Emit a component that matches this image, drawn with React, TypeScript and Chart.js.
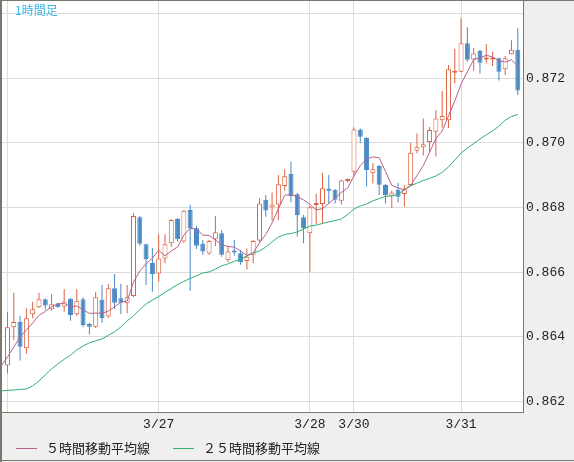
import React, { useEffect, useRef } from 'react';
import { Chart, registerables } from 'chart.js';

Chart.register(...registerables);

// ---- data (hourly candles, index 0 = 3/26 0:00) ----
const opens = [
  0.86312, 0.86430, 0.86446, 0.86365, 0.86470, 0.86492, 0.86517, 0.86486, 0.86504, 0.86494,
  0.86518, 0.86470, 0.86517, 0.86440, 0.86432, 0.86515, 0.86463, 0.86551, 0.86520, 0.86504,
  0.86527, 0.86770, 0.86687, 0.86629, 0.86596, 0.86643, 0.86690, 0.86765, 0.86695, 0.86793,
  0.86736, 0.86688, 0.86658, 0.86702, 0.86721, 0.86637, 0.86666, 0.86659, 0.86635, 0.86654,
  0.86698, 0.86824, 0.86801, 0.86810, 0.86867, 0.86904, 0.86841, 0.86770, 0.86721, 0.86808,
  0.86811, 0.86856, 0.86855, 0.86821, 0.86882, 0.86911, 0.87042, 0.87015, 0.86906, 0.86929,
  0.86870, 0.86837, 0.86855, 0.86842, 0.86870, 0.86976, 0.86987, 0.87003, 0.87035, 0.87070,
  0.87070, 0.87217, 0.87220, 0.87308, 0.87258, 0.87284, 0.87258, 0.87258, 0.87262, 0.87228,
  0.87274, 0.87288,
];
const highs = [
  0.86478, 0.86537, 0.86465, 0.86489, 0.86509, 0.86537, 0.86519, 0.86533, 0.86505, 0.86548,
  0.86521, 0.86548, 0.86523, 0.86444, 0.86539, 0.86561, 0.86564, 0.86595, 0.86564, 0.86561,
  0.86783, 0.86774, 0.86688, 0.86676, 0.86718, 0.86718, 0.86765, 0.86768, 0.86793, 0.86808,
  0.86743, 0.86700, 0.86700, 0.86774, 0.86731, 0.86681, 0.86700, 0.86669, 0.86674, 0.86700,
  0.86829, 0.86839, 0.86847, 0.86901, 0.86919, 0.86942, 0.86845, 0.86777, 0.86805, 0.86842,
  0.86907, 0.86901, 0.86858, 0.86886, 0.86890, 0.87048, 0.87045, 0.87018, 0.86938, 0.86932,
  0.86873, 0.86852, 0.86876, 0.86870, 0.87001, 0.87029, 0.87076, 0.87049, 0.87102, 0.87161,
  0.87241, 0.87291, 0.87386, 0.87358, 0.87294, 0.87288, 0.87306, 0.87282, 0.87264, 0.87269,
  0.87318, 0.87355,
];
const lows = [
  0.86288, 0.86391, 0.86327, 0.86348, 0.86458, 0.86490, 0.86484, 0.86482, 0.86491, 0.86478,
  0.86450, 0.86465, 0.86430, 0.86408, 0.86428, 0.86443, 0.86459, 0.86486, 0.86471, 0.86473,
  0.86524, 0.86682, 0.86561, 0.86540, 0.86571, 0.86628, 0.86679, 0.86695, 0.86691, 0.86543,
  0.86672, 0.86654, 0.86654, 0.86681, 0.86648, 0.86631, 0.86651, 0.86623, 0.86609, 0.86628,
  0.86693, 0.86772, 0.86760, 0.86762, 0.86852, 0.86817, 0.86711, 0.86690, 0.86602, 0.86749,
  0.86752, 0.86811, 0.86813, 0.86810, 0.86878, 0.86896, 0.86999, 0.86865, 0.86875, 0.86839,
  0.86813, 0.86798, 0.86816, 0.86803, 0.86867, 0.86968, 0.86961, 0.86970, 0.86958, 0.87048,
  0.87046, 0.87185, 0.87219, 0.87251, 0.87223, 0.87215, 0.87246, 0.87238, 0.87193, 0.87210,
  0.87274, 0.87148,
];
const closes = [
  0.86430, 0.86446, 0.86370, 0.86458, 0.86486, 0.86517, 0.86497, 0.86501, 0.86492, 0.86510,
  0.86468, 0.86512, 0.86437, 0.86432, 0.86523, 0.86459, 0.86551, 0.86506, 0.86506, 0.86523,
  0.86774, 0.86688, 0.86641, 0.86595, 0.86643, 0.86687, 0.86762, 0.86702, 0.86790, 0.86736,
  0.86682, 0.86664, 0.86697, 0.86724, 0.86654, 0.86664, 0.86661, 0.86631, 0.86648, 0.86697,
  0.86813, 0.86791, 0.86810, 0.86872, 0.86897, 0.86836, 0.86777, 0.86736, 0.86801, 0.86811,
  0.86860, 0.86852, 0.86824, 0.86884, 0.86886, 0.87042, 0.87019, 0.86916, 0.86919, 0.86871,
  0.86838, 0.86847, 0.86834, 0.86857, 0.86970, 0.86988, 0.86996, 0.87040, 0.87076, 0.87083,
  0.87228, 0.87222, 0.87308, 0.87257, 0.87277, 0.87248, 0.87261, 0.87260, 0.87220, 0.87262,
  0.87288, 0.87162,
];
// moving averages, first value sits at index maFirstIndex (one hour before the first candle)
const maFirstIndex = -1;
const ma5 = [
  0.86310, 0.86338, 0.86369, 0.86400, 0.86422, 0.86443, 0.86467, 0.86479, 0.86494, 0.86502,
  0.86504, 0.86493, 0.86496, 0.86484, 0.86473, 0.86474, 0.86473, 0.86480, 0.86493, 0.86508,
  0.86511, 0.86570, 0.86604, 0.86626, 0.86644, 0.86668, 0.86651, 0.86666, 0.86678, 0.86715,
  0.86736, 0.86734, 0.86715, 0.86714, 0.86700, 0.86685, 0.86680, 0.86678, 0.86666, 0.86652,
  0.86660, 0.86691, 0.86717, 0.86753, 0.86796, 0.86838, 0.86841, 0.86833, 0.86824, 0.86810,
  0.86793, 0.86797, 0.86813, 0.86830, 0.86847, 0.86861, 0.86898, 0.86930, 0.86950, 0.86957,
  0.86954, 0.86912, 0.86869, 0.86861, 0.86855, 0.86869, 0.86899, 0.86930, 0.86971, 0.87014,
  0.87037, 0.87083, 0.87130, 0.87182, 0.87220, 0.87258, 0.87263, 0.87271, 0.87266, 0.87254,
  0.87250, 0.87257, 0.87238,
];
const ma25 = [
  0.86233, 0.86235, 0.86236, 0.86238, 0.86239, 0.86249, 0.86264, 0.86283, 0.86301, 0.86317,
  0.86331, 0.86344, 0.86360, 0.86372, 0.86382, 0.86388, 0.86394, 0.86405, 0.86416, 0.86431,
  0.86450, 0.86465, 0.86485, 0.86502, 0.86514, 0.86525, 0.86538, 0.86550, 0.86562, 0.86572,
  0.86581, 0.86589, 0.86598, 0.86601, 0.86610, 0.86620, 0.86626, 0.86634, 0.86640, 0.86651,
  0.86660, 0.86666, 0.86678, 0.86694, 0.86709, 0.86717, 0.86720, 0.86725, 0.86734, 0.86743,
  0.86746, 0.86751, 0.86756, 0.86760, 0.86765, 0.86779, 0.86796, 0.86805, 0.86811, 0.86821,
  0.86828, 0.86835, 0.86836, 0.86841, 0.86855, 0.86867, 0.86876, 0.86884, 0.86890, 0.86898,
  0.86909, 0.86926, 0.86947, 0.86969, 0.86984, 0.86998, 0.87012, 0.87025, 0.87037, 0.87052,
  0.87070, 0.87082, 0.87088,
];
const xTickIndex = [0, 24, 48, 55, 72];
const xTickLabels = ['', '3/27', '3/28', '3/30', '3/31'];
const yTickValues = [0.862, 0.864, 0.866, 0.868, 0.87, 0.872, 0.874];
const yTickLabels = ['0.862', '0.864', '0.866', '0.868', '0.870', '0.872', ''];
const titleText = '1時間足';
const ma5Label = '５時間移動平均線';
const ma25Label = '２５時間移動平均線';

// ---- styles ----
const UP = '#dc6242';
const DOWN = '#4a89c3';
const MA5_COLOR = '#b9608f';
const MA25_COLOR = '#2eb273';
const GRID = '#dcdcdc';
const FRAME = '#78786f';
const PANEL = '#efefef';
const MONO = "'Liberation Mono', 'DejaVu Sans Mono', monospace";
const JP = "'Noto Sans CJK JP', 'Noto Sans', sans-serif";

export default function App() {
  const ref = useRef<HTMLCanvasElement | null>(null);

  useEffect(() => {
    document.body.style.margin = '0';
    const canvas = ref.current;
    if (!canvas) return;

    const idx = opens.map((_, i) => i);
    const isUp = idx.map((i) => closes[i] >= opens[i]);
    const wickData = idx.map((i) => ({ x: i, y: [lows[i], highs[i]] }));
    const bodyData = idx.map((i) => ({ x: i, y: [opens[i], closes[i]] }));
    const ma5Data = ma5.map((v, k) => ({ x: maFirstIndex + k, y: v }));
    const ma25Data = ma25.map((v, k) => ({ x: maFirstIndex + k, y: v }));

    const framePlugin = {
      id: 'frame',
      beforeDraw(chart: any) {
        const { ctx, chartArea: a, width, height } = chart;
        ctx.save();
        ctx.fillStyle = PANEL;
        ctx.fillRect(0, 0, width, height);
        ctx.fillStyle = '#ffffff';
        ctx.fillRect(a.left, a.top, a.right - a.left, a.bottom - a.top);
        ctx.restore();
      },
      afterDraw(chart: any) {
        const { ctx, chartArea: a, width } = chart;
        ctx.save();
        ctx.fillStyle = FRAME;
        ctx.fillRect(Math.round(a.right), 0, 1, Math.round(a.bottom) + 1);
        ctx.fillRect(0, Math.round(a.bottom), Math.round(a.right) + 1, 1);
        ctx.fillRect(0, 0, 2, chart.height);
        ctx.fillRect(0, 0, width, 1);
        ctx.fillRect(0, chart.height - 2, width, 1);
        // title
        ctx.fillStyle = '#38b8ea';
        ctx.font = `12px ${JP}`;
        ctx.textBaseline = 'middle';
        ctx.textAlign = 'left';
        ctx.fillText(titleText, 15, 10);
        // legend
        const lineSets = chart.data.datasets.filter((d: any) => d.type === 'line');
        const starts = [16, 173];
        lineSets.forEach((d: any, k: number) => {
          const x = starts[k];
          const y = 448.5;
          ctx.strokeStyle = d.borderColor;
          ctx.lineWidth = 1;
          ctx.beginPath();
          ctx.moveTo(x, y);
          ctx.lineTo(x + 21, y);
          ctx.stroke();
          ctx.fillStyle = '#222222';
          ctx.font = `13px ${JP}`;
          ctx.fillText(d.label, x + 30, 448);
        });
        ctx.restore();
      },
    };

    const chart = new Chart(canvas, {
      type: 'bar',
      data: {
        datasets: [
          {
            type: 'line',
            label: ma5Label,
            data: ma5Data as any,
            borderColor: MA5_COLOR,
            borderWidth: 1,
            pointRadius: 0,
            tension: 0,
            order: 0,
          } as any,
          {
            type: 'line',
            label: ma25Label,
            data: ma25Data as any,
            borderColor: MA25_COLOR,
            borderWidth: 1,
            pointRadius: 0,
            tension: 0,
            order: 0,
          } as any,
          {
            type: 'bar',
            label: 'body',
            data: bodyData as any,
            backgroundColor: isUp.map((u) => (u ? '#ffffff' : DOWN)),
            borderColor: isUp.map((u) => (u ? UP : DOWN)),
            borderWidth: 1,
            borderSkipped: false,
            barThickness: 5,
            minBarLength: 2,
            grouped: false,
            inflateAmount: 0,
            order: 1,
          } as any,
          {
            type: 'bar',
            label: 'wick',
            data: wickData as any,
            backgroundColor: isUp.map((u) => (u ? UP : DOWN)),
            borderWidth: 0,
            barThickness: 1,
            grouped: false,
            inflateAmount: 0,
            order: 2,
          } as any,
        ],
      },
      options: {
        animation: false,
        responsive: false,
        events: [],
        layout: { padding: { left: 2, top: 1, right: 0, bottom: 0 } },
        plugins: {
          legend: { display: false },
          tooltip: { enabled: false },
          title: { display: false },
        },
        scales: {
          x: {
            type: 'linear',
            min: -0.87,
            max: 81.83,
            offset: false,
            grid: { color: GRID, lineWidth: 1, drawTicks: false, offset: false },
            border: { display: false },
            afterBuildTicks: (s: any) => {
              s.ticks = xTickIndex.map((v) => ({ value: v }));
            },
            afterFit: (s: any) => {
              s.height = 50;
              s.paddingLeft = 0;
              s.paddingRight = 0;
            },
            ticks: {
              autoSkip: false,
              maxRotation: 0,
              padding: 5,
              color: '#222222',
              font: { family: MONO, size: 13 },
              callback: (_v: any, i: number) => xTickLabels[i],
            },
          },
          y: {
            type: 'linear',
            position: 'right',
            min: 0.86168,
            max: 0.87439,
            grid: { color: GRID, lineWidth: 1, drawTicks: false },
            border: { display: false },
            afterBuildTicks: (s: any) => {
              s.ticks = yTickValues.map((v) => ({ value: v }));
            },
            afterFit: (s: any) => {
              s.width = 51;
              s.paddingTop = 0;
              s.paddingBottom = 0;
            },
            ticks: {
              padding: 3,
              color: '#222222',
              font: { family: MONO, size: 13 },
              callback: (_v: any, i: number) => yTickLabels[i],
            },
          },
        },
      } as any,
      plugins: [framePlugin],
    });

    return () => chart.destroy();
  }, []);

  return (
    <div style={{ width: 574, height: 462, position: 'relative' }}>
      <canvas ref={ref} width={574} height={462} style={{ display: 'block' }} />
    </div>
  );
}
